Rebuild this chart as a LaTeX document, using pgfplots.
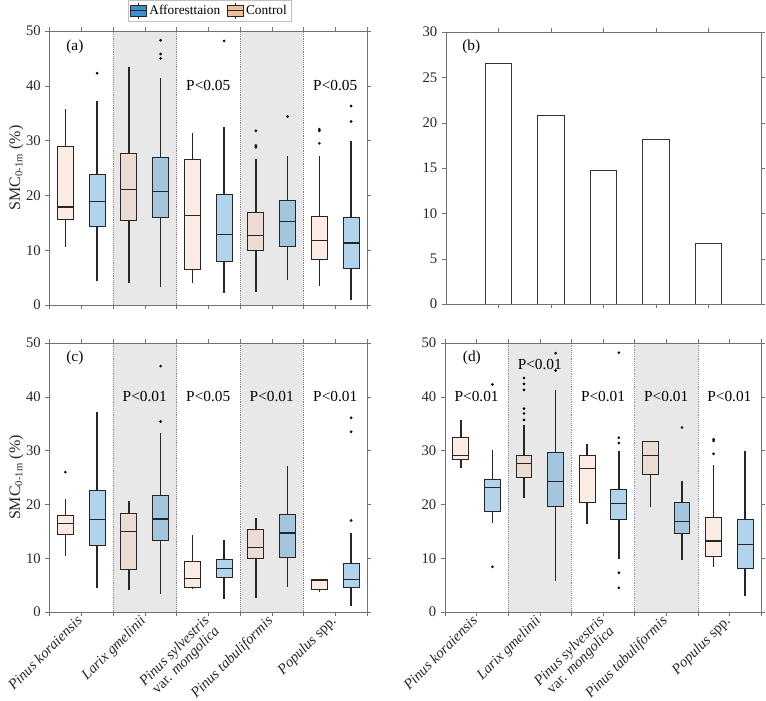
\documentclass[border=0pt]{standalone}
\usepackage{fontspec}
\setmainfont{Liberation Serif}
\usepackage{pgfplots}
\pgfplotsset{compat=1.18}
\usepgfplotslibrary{statistics}

\definecolor{afc}{RGB}{60,145,205}
\definecolor{ctc}{RGB}{242,190,160}
\definecolor{bandgray}{RGB}{232,232,232}

\pgfplotsset{
  panel/.style={scale only axis, anchor=north west, axis on top,
    axis line style={black!55}, tick style={black!55},
    tick align=outside, major tick length=3pt,
    /pgf/number format/assume math mode=true,
    ticklabel style={font=\fontsize{11}{13}\selectfont, text=black!85},
    label style={font=\fontsize{12}{14}\selectfont, text=black!85}},
  boxpanel/.style={panel, xmin=0, xmax=10, ymin=0, ymax=50,
    xtick={0,...,10}, ytick={0,10,...,50}},
  species/.style={
    xticklabels={{},{\textit{Pinus koraiensis}},{},{\textit{Larix gmelinii}},{},
      {\textit{Pinus sylvestris}\\var. \textit{mongolica}},{},
      {\textit{Pinus tabuliformis}},{},{\textit{Populus} spp.}},
    xticklabel style={rotate=45, anchor=north east, align=right, inner sep=1pt,
      yshift=5pt, xshift=-1pt, font=\fontsize{11}{11}\selectfont}},
  ctrl/.style={draw=black!85, fill=ctc, fill opacity=0.3, line width=0.7pt,
    mark=*, mark size=0.6pt, mark options={fill=black, draw=black, fill opacity=1}},
  affo/.style={draw=black!85, fill=afc, fill opacity=0.4, line width=0.7pt,
    mark=*, mark size=0.6pt, mark options={fill=black, draw=black, fill opacity=1}},
  boxplot/draw direction=y,
  boxplot/box extend=0.5,
  boxplot/whisker extend=0,
  boxplot/every whisker/.style={line width=1.1pt},
  boxplot/every median/.style={line width=0.9pt},
}
\newcommand{\groupshade}{%
  \fill[bandgray] (axis cs:2,0) rectangle (axis cs:4,50);
  \fill[bandgray] (axis cs:6,0) rectangle (axis cs:8,50);
  \draw[densely dotted, black!45] (axis cs:2,0) -- (axis cs:2,50);
  \draw[densely dotted, black!45] (axis cs:4,0) -- (axis cs:4,50);
  \draw[densely dotted, black!45] (axis cs:6,0) -- (axis cs:6,50);
  \draw[densely dotted, black!45] (axis cs:8,0) -- (axis cs:8,50);}
\newcommand{\ptext}{\fontsize{11.5}{13}\selectfont}

\begin{document}
\begin{tikzpicture}
\path[use as bounding box] (0,0) rectangle (574.5pt,-525pt);

% (a)
\begin{axis}[boxpanel, at={(37.125pt,-23.25pt)}, width=238.125pt, height=205.5pt,
  xticklabels={},
  ylabel={SMC\textsubscript{0-1m} (\%)},
  ylabel style={at={(axis description cs:-0.105,0.5)}, anchor=center},
  legend style={at={(axis description cs:0.505,1.036)}, anchor=south, legend columns=2,
    draw=black!25, font=\fontsize{10}{12}\selectfont, inner sep=1.5pt,
    /tikz/every even column/.style={column sep=3pt}}]
\addlegendimage{legend image code/.code={
  \draw[fill=afc, draw=black!85] (0pt,-4pt) rectangle (12pt,4pt);
  \draw[black!85] (0pt,0pt) -- (12pt,0pt) (6pt,4pt) -- (6pt,6pt) (6pt,-4pt) -- (6pt,-6pt);}}
\addlegendentry{Afforesttaion}
\addlegendimage{legend image code/.code={
  \draw[fill=ctc, draw=black!85] (0pt,-4pt) rectangle (12pt,4pt);
  \draw[black!85] (0pt,0pt) -- (12pt,0pt) (6pt,4pt) -- (6pt,6pt) (6pt,-4pt) -- (6pt,-6pt);}}
\addlegendentry{Control}
\groupshade
\addplot[ctrl, boxplot prepared={draw position=0.5, lower whisker=10.5, lower quartile=15.6, median=17.9, upper quartile=28.9, upper whisker=35.8}] coordinates {};
\addplot[affo, boxplot prepared={draw position=1.5, lower whisker=4.3, lower quartile=14.3, median=18.9, upper quartile=23.8, upper whisker=37.3}] coordinates {(0,42.3)};
\addplot[ctrl, boxplot prepared={draw position=2.5, lower whisker=4.0, lower quartile=15.5, median=21.1, upper quartile=27.7, upper whisker=43.4}] coordinates {};
\addplot[affo, boxplot prepared={draw position=3.5, lower whisker=3.2, lower quartile=15.9, median=20.7, upper quartile=27.0, upper whisker=41.4}] coordinates {(0,48.3) (0,45.8) (0,45.0)};
\addplot[ctrl, boxplot prepared={draw position=4.5, lower whisker=4.0, lower quartile=6.4, median=16.3, upper quartile=26.6, upper whisker=31.3}] coordinates {};
\addplot[affo, boxplot prepared={draw position=5.5, lower whisker=2.2, lower quartile=7.9, median=12.8, upper quartile=20.2, upper whisker=32.4}] coordinates {(0,48.2)};
\addplot[ctrl, boxplot prepared={draw position=6.5, lower whisker=2.4, lower quartile=10.0, median=12.7, upper quartile=16.8, upper whisker=26.6}] coordinates {(0,31.8) (0,29.1) (0,28.8)};
\addplot[affo, boxplot prepared={draw position=7.5, lower whisker=4.6, lower quartile=10.6, median=15.3, upper quartile=19.0, upper whisker=27.2}] coordinates {(0,34.4)};
\addplot[ctrl, boxplot prepared={draw position=8.5, lower whisker=3.4, lower quartile=8.3, median=11.8, upper quartile=16.1, upper whisker=27.2}] coordinates {(0,32.1) (0,31.8) (0,29.5)};
\addplot[affo, boxplot prepared={draw position=9.5, lower whisker=1.0, lower quartile=6.6, median=11.3, upper quartile=15.9, upper whisker=30.0}] coordinates {(0,36.3) (0,33.5)};
\node[font=\ptext] at (axis description cs:0.08,0.944) {(a)};
\node[font=\ptext] at (axis cs:5,40) {P<0.05};
\node[font=\ptext] at (axis cs:9,40) {P<0.05};
\end{axis}

% (b)
\begin{axis}[panel, at={(334.5pt,-24pt)}, width=236.25pt, height=204pt,
  xmin=0, xmax=6, ymin=0, ymax=30, xtick={1,...,5}, xticklabels={},
  ytick={0,5,...,30}]
\addplot[ybar, bar width=0.5, fill=white, draw=black!80, line width=0.6pt]
  coordinates {(1,26.5) (2,20.8) (3,14.7) (4,18.2) (5,6.7)};
\node[font=\ptext] at (axis description cs:0.08,0.944) {(b)};
\end{axis}

% (c)
\begin{axis}[boxpanel, species, at={(37.125pt,-257.25pt)}, width=238.125pt, height=201.75pt,
  ylabel={SMC\textsubscript{0-1m} (\%)},
  ylabel style={at={(axis description cs:-0.105,0.5)}, anchor=center}]
\groupshade
\addplot[ctrl, boxplot prepared={draw position=0.5, lower whisker=10.5, lower quartile=14.4, median=16.5, upper quartile=18.0, upper whisker=21.0}] coordinates {(0,26.0)};
\addplot[affo, boxplot prepared={draw position=1.5, lower whisker=4.5, lower quartile=12.3, median=17.2, upper quartile=22.5, upper whisker=37.2}] coordinates {};
\addplot[ctrl, boxplot prepared={draw position=2.5, lower whisker=4.1, lower quartile=7.9, median=14.9, upper quartile=18.4, upper whisker=20.7}] coordinates {};
\addplot[affo, boxplot prepared={draw position=3.5, lower whisker=3.3, lower quartile=13.3, median=17.3, upper quartile=21.6, upper whisker=33.3}] coordinates {(0,45.7) (0,35.4)};
\addplot[ctrl, boxplot prepared={draw position=4.5, lower whisker=4.2, lower quartile=4.5, median=6.2, upper quartile=9.4, upper whisker=14.4}] coordinates {};
\addplot[affo, boxplot prepared={draw position=5.5, lower whisker=2.4, lower quartile=6.4, median=8.1, upper quartile=9.8, upper whisker=13.4}] coordinates {};
\addplot[ctrl, boxplot prepared={draw position=6.5, lower whisker=2.6, lower quartile=9.9, median=12.0, upper quartile=15.4, upper whisker=17.4}] coordinates {};
\addplot[affo, boxplot prepared={draw position=7.5, lower whisker=4.6, lower quartile=10.1, median=14.7, upper quartile=18.1, upper whisker=27.1}] coordinates {};
\addplot[ctrl, boxplot prepared={draw position=8.5, lower whisker=3.7, lower quartile=4.1, median=5.8, upper quartile=6.1, upper whisker=6.2}] coordinates {};
\addplot[affo, boxplot prepared={draw position=9.5, lower whisker=1.2, lower quartile=4.6, median=6.1, upper quartile=9.0, upper whisker=14.6}] coordinates {(0,36.1) (0,33.5) (0,17.0)};
\node[font=\ptext] at (axis description cs:0.08,0.944) {(c)};
\node[font=\ptext] at (axis cs:3,40) {P<0.01};
\node[font=\ptext] at (axis cs:5,40) {P<0.05};
\node[font=\ptext] at (axis cs:7,40) {P<0.01};
\node[font=\ptext] at (axis cs:9,40) {P<0.01};
\end{axis}

% (d)
\begin{axis}[boxpanel, species, at={(333.75pt,-257.25pt)}, width=237pt, height=201.75pt]
\groupshade
\addplot[ctrl, boxplot prepared={draw position=0.5, lower whisker=26.7, lower quartile=28.4, median=29.1, upper quartile=32.4, upper whisker=35.7}] coordinates {};
\addplot[affo, boxplot prepared={draw position=1.5, lower whisker=16.6, lower quartile=18.6, median=23.2, upper quartile=24.7, upper whisker=30.2}] coordinates {(0,42.3) (0,8.4)};
\addplot[ctrl, boxplot prepared={draw position=2.5, lower whisker=21.1, lower quartile=25.1, median=27.6, upper quartile=29.1, upper whisker=34.8}] coordinates {(0,43.5) (0,42.4) (0,41.3) (0,37.8) (0,36.9) (0,35.7)};
\addplot[affo, boxplot prepared={draw position=3.5, lower whisker=5.8, lower quartile=19.6, median=24.3, upper quartile=29.6, upper whisker=41.2}] coordinates {(0,48.1) (0,44.9)};
\addplot[ctrl, boxplot prepared={draw position=4.5, lower whisker=16.4, lower quartile=20.3, median=26.6, upper quartile=29.1, upper whisker=31.2}] coordinates {};
\addplot[affo, boxplot prepared={draw position=5.5, lower whisker=9.8, lower quartile=17.2, median=20.1, upper quartile=22.8, upper whisker=30.0}] coordinates {(0,48.2) (0,32.4) (0,31.4) (0,7.3) (0,4.5)};
\addplot[ctrl, boxplot prepared={draw position=6.5, lower whisker=19.6, lower quartile=25.5, median=29.1, upper quartile=31.7, upper whisker=31.7}] coordinates {};
\addplot[affo, boxplot prepared={draw position=7.5, lower whisker=9.6, lower quartile=14.6, median=16.8, upper quartile=20.3, upper whisker=24.3}] coordinates {(0,34.3)};
\addplot[ctrl, boxplot prepared={draw position=8.5, lower whisker=8.4, lower quartile=10.3, median=13.2, upper quartile=17.5, upper whisker=27.3}] coordinates {(0,32.1) (0,31.8) (0,29.4)};
\addplot[affo, boxplot prepared={draw position=9.5, lower whisker=3.0, lower quartile=8.1, median=12.6, upper quartile=17.2, upper whisker=29.9}] coordinates {};
\node[font=\ptext] at (axis description cs:0.085,0.944) {(d)};
\node[font=\ptext] at (axis cs:1,40) {P<0.01};
\node[font=\ptext] at (axis cs:3,46) {P<0.01};
\node[font=\ptext] at (axis cs:5,40) {P<0.01};
\node[font=\ptext] at (axis cs:7,40) {P<0.01};
\node[font=\ptext] at (axis cs:9,40) {P<0.01};
\end{axis}
\end{tikzpicture}
\end{document}
